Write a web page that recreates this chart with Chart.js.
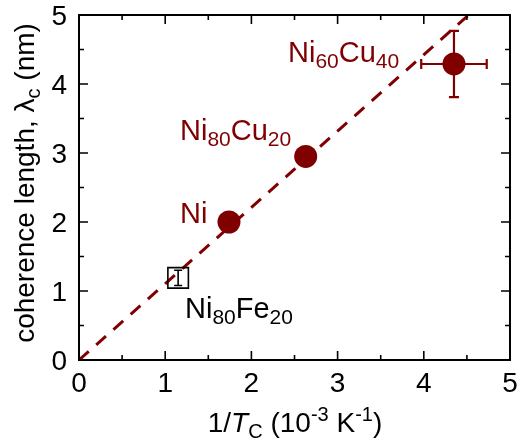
<!DOCTYPE html>
<html>
<head>
<meta charset="utf-8">
<script src="https://cdn.jsdelivr.net/npm/chart.js@4.4.1/dist/chart.umd.min.js"></script>
<style>
  html, body { margin: 0; padding: 0; background: #fff; overflow: hidden; }
  #wrap { width: 518px; height: 441px; }
</style>
</head>
<body>
<div id="wrap"><canvas id="chart"></canvas></div>
<script>
// Ni and NiCu alloys (filled circles)
const samples = ['Ni', 'Ni80Cu20', 'Ni60Cu40'];
const invTc = [1.74, 2.63, 4.35];
const invTcErr = [0.06, 0.06, 0.38];
const lambdaC = [2.00, 2.95, 4.29];
const lambdaErr = [0.07, 0.10, 0.48];

// permalloy (open square)
const feInvTc = [1.15];
const feLambda = [1.19];
const feLambdaErr = [0.11];

// linear guide through origin
const fitX = [0, 4.52];
const fitY = [0, 5];

const xTicks = [0, 1, 2, 3, 4, 5];
const yTicks = [0, 1, 2, 3, 4, 5];

const RED = '#800000';
const FONT = '"Liberation Sans", Arial, sans-serif';

function rich(ctx, x, y, parts, color) {
    ctx.fillStyle = color;
    ctx.textBaseline = 'alphabetic';
    ctx.textAlign = 'left';
    parts.forEach(p => {
        ctx.font = (p.it ? 'italic ' : '') + p.size + 'px ' + FONT;
        ctx.fillText(p.t, x, y + (p.dy || 0));
        x += ctx.measureText(p.t).width;
    });
}
function richWidth(ctx, parts) {
    let w = 0;
    parts.forEach(p => {
        ctx.font = (p.it ? 'italic ' : '') + p.size + 'px ' + FONT;
        w += ctx.measureText(p.t).width;
    });
    return w;
}
function chem(a, n1, b, n2) {
    const out = [{t: a, size: 29}, {t: n1, size: 21, dy: 6}];
    if (b) { out.push({t: b, size: 29}); out.push({t: n2, size: 21, dy: 6}); }
    return out;
}

const decorPlugin = {
    id: 'decor',
    afterDatasetsDraw(chart) {
        const ctx = chart.ctx;
        const xs = chart.scales.x, ys = chart.scales.y;
        const a = chart.chartArea;
        ctx.save();

        // error bars
        function errBar(x, y, ex, ey, color, w, cap) {
            ctx.strokeStyle = color;
            ctx.lineWidth = w;
            const px = xs.getPixelForValue(x), py = ys.getPixelForValue(y);
            if (ey) {
                const t = ys.getPixelForValue(y + ey), b = ys.getPixelForValue(y - ey);
                ctx.beginPath();
                ctx.moveTo(px, t); ctx.lineTo(px, b);
                ctx.moveTo(px - cap, t); ctx.lineTo(px + cap, t);
                ctx.moveTo(px - cap, b); ctx.lineTo(px + cap, b);
                ctx.stroke();
            }
            if (ex) {
                const l = xs.getPixelForValue(x - ex), r = xs.getPixelForValue(x + ex);
                ctx.beginPath();
                ctx.moveTo(l, py); ctx.lineTo(r, py);
                ctx.moveTo(l, py - cap); ctx.lineTo(l, py + cap);
                ctx.moveTo(r, py - cap); ctx.lineTo(r, py + cap);
                ctx.stroke();
            }
        }
        invTc.forEach((x, i) => errBar(x, lambdaC[i], invTcErr[i], lambdaErr[i], RED, 2.2, 5));
        feInvTc.forEach((x, i) => errBar(x, feLambda[i], 0, feLambdaErr[i], '#000', 1.6, 4));

        // frame
        ctx.strokeStyle = '#000';
        ctx.lineWidth = 2;
        ctx.strokeRect(a.left, a.top, a.right - a.left, a.bottom - a.top);

        // inward ticks on all four sides
        ctx.lineWidth = 1.6;
        ctx.beginPath();
        for (let v = 0; v <= 5.001; v += 0.5) {
            const len = Math.abs(v - Math.round(v)) < 1e-6 ? 9 : 5;
            const px = xs.getPixelForValue(v);
            ctx.moveTo(px, a.bottom); ctx.lineTo(px, a.bottom - len);
            ctx.moveTo(px, a.top); ctx.lineTo(px, a.top + len);
            const py = ys.getPixelForValue(v);
            ctx.moveTo(a.left, py); ctx.lineTo(a.left + len, py);
            ctx.moveTo(a.right, py); ctx.lineTo(a.right - len, py);
        }
        ctx.stroke();

        // tick labels
        ctx.fillStyle = '#000';
        ctx.font = '28px ' + FONT;
        ctx.textBaseline = 'alphabetic';
        ctx.textAlign = 'center';
        xTicks.forEach(v => ctx.fillText(String(v), xs.getPixelForValue(v), a.bottom + 32));
        ctx.textAlign = 'right';
        yTicks.forEach(v => ctx.fillText(String(v), a.left - 12, ys.getPixelForValue(v) + 10));

        // sample labels
        rich(ctx, 288, 62, chem('Ni', '60', 'Cu', '40'), RED);
        rich(ctx, 180, 140, chem('Ni', '80', 'Cu', '20'), RED);
        rich(ctx, 180, 223, [{t: 'Ni', size: 29}], RED);
        rich(ctx, 185, 318, chem('Ni', '80', 'Fe', '20'), '#000');

        // x title
        const xt = [
            {t: '1/', size: 28}, {t: 'T', size: 28, it: true}, {t: 'C', size: 20, dy: 6},
            {t: ' (10', size: 28}, {t: '-3', size: 20, dy: -11},
            {t: ' K', size: 28}, {t: '-1', size: 20, dy: -11}, {t: ')', size: 28}
        ];
        rich(ctx, 295 - richWidth(ctx, xt) / 2, 432, xt, '#000');

        // y title
        const yt = [
            {t: 'coherence length, ', size: 28}, {t: '\u03bb', size: 28},
            {t: 'c', size: 20, dy: 6}, {t: ' (nm)', size: 28}
        ];
        ctx.translate(34, 183);
        ctx.rotate(-Math.PI / 2);
        rich(ctx, -richWidth(ctx, yt) / 2, 0, yt, '#000');

        ctx.restore();
    }
};

new Chart(document.getElementById('chart'), {
    type: 'scatter',
    data: {
        datasets: [
            {
                type: 'line',
                data: fitX.map((x, i) => ({x: x, y: fitY[i]})),
                borderColor: RED,
                borderWidth: 3,
                borderDash: [13, 10],
                pointRadius: 0,
                fill: false,
                order: 3
            },
            {
                data: invTc.map((x, i) => ({x: x, y: lambdaC[i]})),
                pointStyle: 'circle',
                pointRadius: 11.5,
                backgroundColor: RED,
                borderColor: RED,
                borderWidth: 0,
                order: 1
            },
            {
                data: feInvTc.map((x, i) => ({x: x, y: feLambda[i]})),
                pointStyle: 'rect',
                pointRadius: 14.5,
                backgroundColor: 'rgba(0,0,0,0)',
                borderColor: '#000',
                borderWidth: 1.6,
                order: 2
            }
        ]
    },
    options: {
        responsive: true,
        maintainAspectRatio: false,
        animation: false,
        layout: { autoPadding: false, padding: { top: 15, right: 8, left: 0, bottom: 0 } },
        scales: {
            x: {
                type: 'linear',
                min: 0,
                max: 5,
                ticks: { display: false },
                afterFit: s => { s.height = 81; s.paddingLeft = 0; s.paddingRight = 0; },
                grid: { display: false },
                border: { display: false }
            },
            y: {
                type: 'linear',
                min: 0,
                max: 5,
                ticks: { display: false },
                afterFit: s => { s.width = 79; s.paddingTop = 0; s.paddingBottom = 0; },
                grid: { display: false },
                border: { display: false }
            }
        },
        plugins: {
            legend: { display: false },
            tooltip: { enabled: false }
        }
    },
    plugins: [decorPlugin]
});
</script>
</body>
</html>
